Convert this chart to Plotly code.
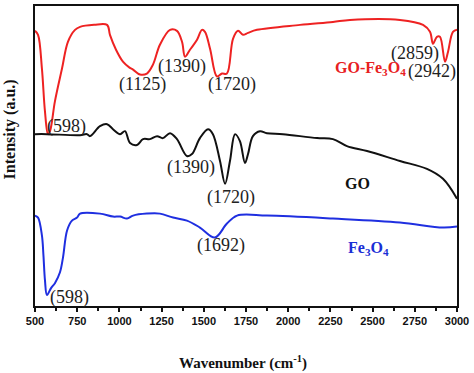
import plotly.graph_objects as go

# GO-Fe3O4 (red)
wn_gofe = [500, 518, 541, 559, 577, 589, 618, 660, 695, 737, 767, 850, 927, 944, 980, 1021, 1060, 1081,
           1122, 1163, 1199, 1240, 1300, 1341, 1371, 1389, 1418, 1460, 1489, 1507, 1537, 1578, 1608,
           1637, 1673, 1703, 1732, 1762, 1815, 2070, 2265, 2366, 2662, 2799, 2840, 2858, 2881, 2899,
           2929, 2947, 2976, 3000]
int_gofe = [277, 273, 239, 196, 173, 176, 206, 239, 266, 278, 281, 283, 283, 273, 258, 246, 240, 238,
            233, 234, 243, 263, 278, 277, 266, 251, 258, 268, 278, 276, 259, 231, 234,
            234, 269, 277, 273, 275, 278, 283, 286, 288, 288, 283, 276, 264, 271, 271,
            246, 256, 276, 278]

# GO (black)
wn_go = [500, 571, 767, 808, 826, 885, 927, 962, 1004, 1033, 1063, 1104, 1140, 1181, 1223, 1258, 1300,
         1341, 1400, 1430, 1477, 1525, 1554, 1596, 1626, 1655, 1685, 1714, 1744, 1762, 1791, 1833,
         1874, 1969, 2171, 2265, 2348, 2467, 2662, 2822, 2917, 3000]
int_go = [173, 173, 172, 173, 171, 181, 183, 178, 173, 176, 164, 162, 168, 168, 171, 169, 174,
          168, 151, 153, 169, 178, 173, 146, 123, 146, 173, 166, 144, 153, 171, 176,
          174, 173, 169, 168, 161, 156, 146, 138, 128, 108]

# Fe3O4 (blue)
wn_fe = [500, 518, 541, 550, 559, 571, 595, 618, 648, 666, 690, 719, 749, 767, 885, 962, 1004, 1045,
         1081, 1163, 1240, 1318, 1400, 1477, 1566, 1637, 1697, 1874, 2265, 2662, 2917, 3000]
int_fe = [91, 89, 71, 51, 26, 11, 18, 23, 34, 49, 76, 86, 89, 93, 93, 90, 90, 88,
          91, 93, 93, 89, 86, 79, 69, 83, 91, 91, 88, 84, 79, 80]

x_ticks = [500, 750, 1000, 1250, 1500, 1750, 2000, 2250, 2500, 2750, 3000]

# peak labels: (text, wavenumber, intensity)
peak_labels = [
    ("(598)", 684, 181), ("(1125)", 1134, 223), ("(1390)", 1371, 241), ("(1720)", 1667, 223),
    ("(2859)", 2751, 254), ("(2942)", 2852, 236),
    ("(1390)", 1424, 139), ("(1720)", 1661, 109),
    ("(1692)", 1602, 61), ("(598)", 707, 9),
]
series_labels = [
    ("<b>GO-Fe<sub>3</sub>O<sub>4</sub></b>", 2490, 239, "#e8201f"),
    ("<b>GO</b>", 2413, 123, "#111111"),
    ("<b>Fe<sub>3</sub>O<sub>4</sub></b>", 2473, 58, "#1a2fd6"),
]

fig = go.Figure()
fig.add_trace(go.Scatter(x=wn_gofe, y=int_gofe, mode="lines", line=dict(color="#ee2222", width=2),
                         line_shape="spline", showlegend=False))
fig.add_trace(go.Scatter(x=wn_go, y=int_go, mode="lines", line=dict(color="#111111", width=2),
                         line_shape="spline", showlegend=False))
fig.add_trace(go.Scatter(x=wn_fe, y=int_fe, mode="lines", line=dict(color="#1f2fe0", width=2),
                         line_shape="spline", showlegend=False))

annotations = []
for t, x, y in peak_labels:
    annotations.append(dict(x=x, y=y, text=t, showarrow=False, xanchor="center", yanchor="middle",
                            font=dict(family="Liberation Serif", size=18, color="#222222")))
for t, x, y, c in series_labels:
    annotations.append(dict(x=x, y=y, text=t, showarrow=False, xanchor="center", yanchor="middle",
                            font=dict(family="Liberation Serif", size=16, color=c)))
annotations.append(dict(xref="paper", yref="paper", x=0.493, y=-0.188, text="<b>Wavenumber (cm<sup>-1</sup>)</b>",
                        showarrow=False, xanchor="center", yanchor="middle",
                        font=dict(family="Liberation Serif", size=15, color="#111111")))
annotations.append(dict(xref="paper", yref="paper", x=-0.059, y=0.589, text="<b>Intensity (a.u.)</b>",
                        showarrow=False, xanchor="center", yanchor="middle", textangle=-90,
                        font=dict(family="Liberation Serif", size=16, color="#111111")))

fig.update_layout(
    width=474, height=373,
    margin=dict(l=35, r=17, t=4, b=67),
    paper_bgcolor="white", plot_bgcolor="white",
    annotations=annotations,
    xaxis=dict(range=[500, 3000], tickvals=x_ticks, ticktext=[str(v) for v in x_ticks],
               showgrid=False, zeroline=False, showline=True, linecolor="#111111", linewidth=2,
               mirror=True, ticks="outside", ticklen=4, tickwidth=2, tickcolor="#111111",
               tickfont=dict(family="Liberation Sans", size=11, color="#111111", weight="bold"),
               minor=dict(dtick=125, ticks="outside", ticklen=3, tickwidth=1.5, tickcolor="#111111")),
    yaxis=dict(range=[0, 302], showticklabels=False, showgrid=False, zeroline=False,
               showline=True, linecolor="#111111", linewidth=2, mirror=True, ticks=""),
)
fig.write_html("out.html", config={"displayModeBar": False},
               post_script="document.body.style.margin='0';")
